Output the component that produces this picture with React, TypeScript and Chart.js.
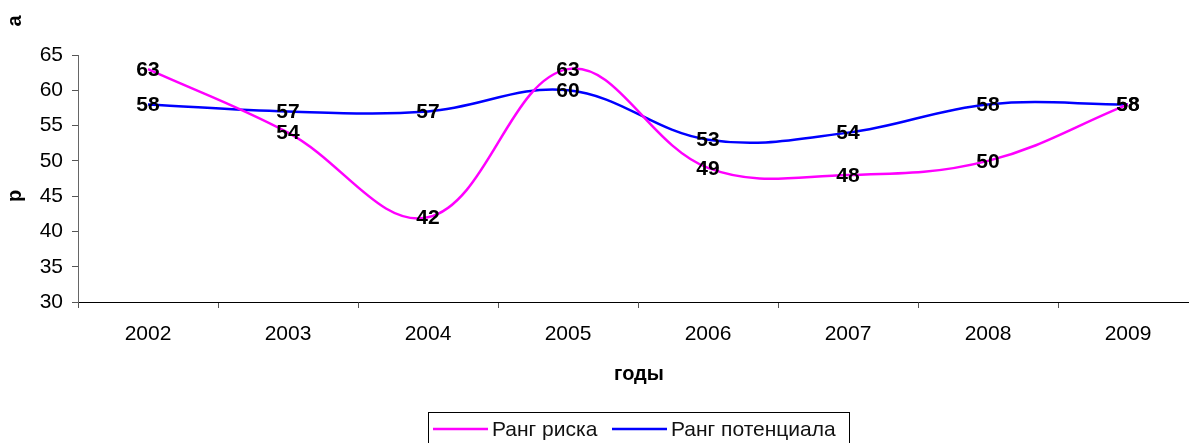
import React, { useEffect, useRef } from "react";
import { Chart, registerables } from "chart.js";

Chart.register(...registerables);

const years = ["2002", "2003", "2004", "2005", "2006", "2007", "2008", "2009"];
const riskRank = [63, 54, 42, 63, 49, 48, 50, 58];
const potentialRank = [58, 57, 57, 60, 53, 54, 58, 58];
const seriesNames = ["Ранг риска", "Ранг потенциала"];
const xTitle = "годы";
const yTitleLetters = ["р", "а"];

const FONT = "'Liberation Sans', Arial, sans-serif";

const overlayPlugin = {
  id: "overlay",
  afterDraw(chart: any) {
    const ctx = chart.ctx as CanvasRenderingContext2D;
    ctx.save();
    // data labels
    ctx.fillStyle = "#000";
    ctx.font = `bold 21px ${FONT}`;
    ctx.textAlign = "center";
    ctx.textBaseline = "middle";
    chart.data.datasets.forEach((ds: any, i: number) => {
      const meta = chart.getDatasetMeta(i);
      meta.data.forEach((pt: any, j: number) => {
        ctx.fillText(String(ds.data[j]), pt.x, pt.y + 1);
      });
    });
    // x axis title
    ctx.font = `bold 20px ${FONT}`;
    ctx.fillText(xTitle, 639, 374);
    // y axis title letters (rotated)
    const yPos = [196, 21];
    yTitleLetters.forEach((ch, k) => {
      ctx.save();
      ctx.translate(15, yPos[k]);
      ctx.rotate(-Math.PI / 2);
      ctx.fillText(ch, 0, 0);
      ctx.restore();
    });
    // legend
    const bx = 428, by = 412, bw = 421, bh = 40;
    ctx.strokeStyle = "#000";
    ctx.lineWidth = 1;
    ctx.strokeRect(bx + 0.5, by + 0.5, bw, bh);
    ctx.font = `21px ${FONT}`;
    ctx.textAlign = "left";
    const starts = [433, 612];
    chart.data.datasets.forEach((ds: any, i: number) => {
      const sx = starts[i];
      ctx.strokeStyle = ds.borderColor;
      ctx.lineWidth = 2.5;
      ctx.beginPath();
      ctx.moveTo(sx, 429);
      ctx.lineTo(sx + 55, 429);
      ctx.stroke();
      ctx.fillStyle = "#111";
      ctx.fillText(ds.label, sx + 59, 430);
    });
    ctx.restore();
  },
};

export default function App() {
  const ref = useRef<HTMLCanvasElement | null>(null);
  useEffect(() => {
    if (!ref.current) return;
    const chart = new Chart(ref.current, {
      type: "line",
      data: {
        labels: years,
        datasets: [
          {
            label: seriesNames[0],
            data: riskRank,
            borderColor: "#FF00FF",
            backgroundColor: "#FF00FF",
            borderWidth: 2.5,
            pointRadius: 0,
            tension: 0.38,
            fill: false,
          },
          {
            label: seriesNames[1],
            data: potentialRank,
            borderColor: "#0000FF",
            backgroundColor: "#0000FF",
            borderWidth: 2.5,
            pointRadius: 0,
            tension: 0.38,
            fill: false,
          },
        ],
      },
      options: {
        animation: false,
        responsive: false,
        maintainAspectRatio: false,
        devicePixelRatio: 1,
        layout: { padding: { top: 55, left: 0, right: 32, bottom: 0 } },
        plugins: {
          legend: { display: false },
          tooltip: { enabled: false },
        },
        scales: {
          x: {
            type: "category",
            offset: true,
            grid: {
              offset: true,
              drawOnChartArea: false,
              drawTicks: true,
              tickLength: 6,
              color: "#555",
            },
            border: { display: true, color: "#000", width: 1 },
            ticks: {
              color: "#000",
              font: { family: FONT, size: 21 },
              padding: 14,
              maxRotation: 0,
            },
            afterFit: (scale: any) => {
              scale.height = 141;
            },
          },
          y: {
            min: 30,
            max: 65,
            ticks: {
              stepSize: 5,
              color: "#000",
              font: { family: FONT, size: 21 },
              padding: 9,
            },
            grid: {
              drawOnChartArea: false,
              drawTicks: true,
              tickLength: 6,
              color: "#555",
            },
            border: { display: true, color: "#666", width: 1 },
            afterFit: (scale: any) => {
              scale.width = 78;
            },
          },
        },
      },
      plugins: [overlayPlugin],
    } as any);
    return () => chart.destroy();
  }, []);
  return (
    <div
      style={{
        position: "fixed",
        left: 0,
        top: 0,
        width: 1189,
        height: 443,
        overflow: "hidden",
        background: "#fff",
      }}
    >
      <canvas ref={ref} width={1230} height={443} style={{ display: "block" }} />
    </div>
  );
}
